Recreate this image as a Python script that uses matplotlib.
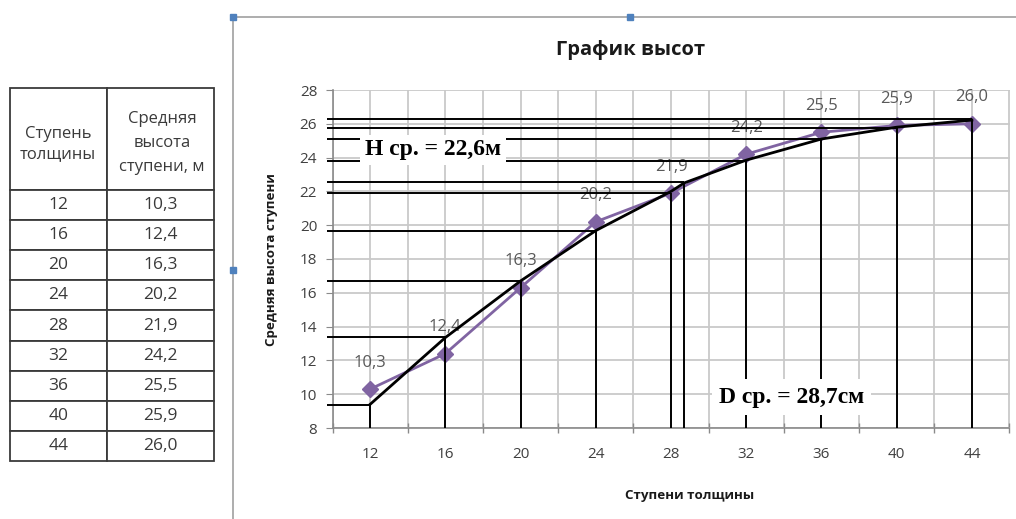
import matplotlib
matplotlib.use('Agg')
import matplotlib.pyplot as plt
from matplotlib.lines import Line2D

# data from the table / chart
stupen = [12, 16, 20, 24, 28, 32, 36, 40, 44]
vysota = [10.3, 12.4, 16.3, 20.2, 21.9, 24.2, 25.5, 25.9, 26.0]
vysota_txt = ['10,3', '12,4', '16,3', '20,2', '21,9', '24,2', '25,5', '25,9', '26,0']

# smoothed height curve and the guide lines to it
trend_x = [12, 16, 20, 24, 28, 28.7, 32, 36, 40, 44]
trend_y = [9.4, 13.35, 16.7, 19.68, 22.0, 22.5, 23.85, 25.1, 25.8, 26.22]
guide_y = [9.36, 13.37, 16.70, 19.66, 21.92, 22.57, 23.82, 25.08, 25.73, 26.27]

x_labels = [12, 16, 20, 24, 28, 32, 36, 40, 44]
x_minor = [10, 14, 18, 22, 26, 30, 34, 38, 42, 46]
y_ticks = list(range(8, 29, 2))

sans = ['Open Sans', 'DejaVu Sans']
serif = ['Liberation Serif', 'DejaVu Serif']
plt.rcParams['font.family'] = sans

W, H = 1016, 519
fig = plt.figure(figsize=(W / 100, H / 100), dpi=100)
fig.patch.set_facecolor('white')

# ---- table on the left ----
ax_t = fig.add_axes([10 / W, (H - 461) / H, 204 / W, 373 / H])
ax_t.axis('off')
rows = [[str(s), v] for s, v in zip(stupen, vysota_txt)]
tab = ax_t.table(cellText=rows, colLabels=['', ''], cellLoc='center',
                 colWidths=[97, 107], bbox=[0, 0, 1, 1])
tab.auto_set_font_size(False)
for (r, c), cell in tab.get_celld().items():
    cell.set_edgecolor('#3a3a3a')
    cell.set_linewidth(1.3)
    cell.get_text().set_fontsize(12.5)
    cell.get_text().set_color('#3a3a3a')
    cell.set_height(102 if r == 0 else 30.1)
ax_t.text(48 / 204, 1 - 56 / 373, 'Ступень\nтолщины', ha='center', va='center',
          fontsize=12, color='#3a3a3a', linespacing=1.3, transform=ax_t.transAxes)
ax_t.text(152 / 204, 1 - 55 / 373, 'Средняя\nвысота\nступени, м', ha='center',
          va='center', fontsize=12, color='#3a3a3a', linespacing=1.65,
          transform=ax_t.transAxes)

# ---- chart ----
ax = fig.add_axes([332.5 / W, (H - 428) / H, 677 / W, 338 / H])
ax.set_xlim(10, 46)
ax.set_ylim(8, 28)

grid_c = '#c9c9c9'
ax.set_xticks(x_labels)
ax.set_xticklabels([str(v) for v in x_labels])
ax.set_xticks(x_minor, minor=True)
ax.set_yticks(y_ticks)
ax.grid(True, which='both', color=grid_c, linewidth=1.3, zorder=0)
ax.set_axisbelow(True)
ax.tick_params(axis='x', which='major', length=0, pad=14, labelsize=11,
               labelcolor='#404040')
ax.tick_params(axis='x', which='minor', direction='inout', length=7,
               color='#8a8a8a', width=1)
ax.tick_params(axis='y', which='major', direction='out', length=5, pad=6,
               color='#8a8a8a', labelsize=11, labelcolor='#404040')
for side in ('top', 'right'):
    ax.spines[side].set_visible(False)
for side in ('left', 'bottom'):
    ax.spines[side].set_color('#8a8a8a')
    ax.spines[side].set_linewidth(1.2)

# series
ax.plot(stupen, vysota, color='#8064a2', linewidth=2, marker='D',
        markersize=8, zorder=3)
for x, y, t in zip(stupen, vysota, vysota_txt):
    ax.annotate(t, (x, y), xytext=(0, 19), textcoords='offset points',
                ha='center', va='center', fontsize=12, color='#595959',
                zorder=4, annotation_clip=False)

# drawn lines: curve plus guides
ax.vlines(trend_x, 8, guide_y, colors='black', linewidth=1.4, zorder=5)
ax.hlines(guide_y, 9.7, trend_x, colors='black', linewidth=1.4, zorder=5,
          clip_on=False)
ax.plot(trend_x, trend_y, color='black', linewidth=2, zorder=6,
        solid_joinstyle='round')

ax.text(15.35, 24.45, 'H ср. = 22,6м', fontsize=17, fontweight='bold',
        family=serif, ha='center', va='center', zorder=8,
        bbox=dict(boxstyle='square,pad=0.2', fc='white', ec='none'))
ax.text(34.4, 9.83, 'D ср. = 28,7см', fontsize=17, fontweight='bold',
        family=serif, ha='center', va='center', zorder=8,
        bbox=dict(boxstyle='square,pad=0.3', fc='white', ec='none'))

# titles
fig.text(631 / W, 1 - 50 / H, 'График высот', ha='center', va='center',
         fontsize=14.5, fontweight='bold', color='#1a1a1a')
fig.text(272 / W, 1 - 260 / H, 'Средняя высота ступени', rotation=90,
         ha='center', va='center', fontsize=9.6, fontweight='bold',
         color='#1a1a1a')
fig.text(690 / W, 1 - 496 / H, 'Ступени толщины', ha='center', va='center',
         fontsize=9.6, fontweight='bold', color='#1a1a1a')

# chart frame and selection handles
fx = 233 / W
fy = 1 - 17 / H
fig.add_artist(Line2D([fx, 1], [fy, fy], color='#a0a0a0', linewidth=1.2))
fig.add_artist(Line2D([fx, fx], [0, fy], color='#a0a0a0', linewidth=1.2))
fig.add_artist(Line2D([fx, 630 / W, fx], [fy, fy, 1 - 270 / H], linestyle='none',
                      marker='s', markersize=5, color='#4f81bd'))

fig.savefig('out.png', dpi=100, facecolor='white')
